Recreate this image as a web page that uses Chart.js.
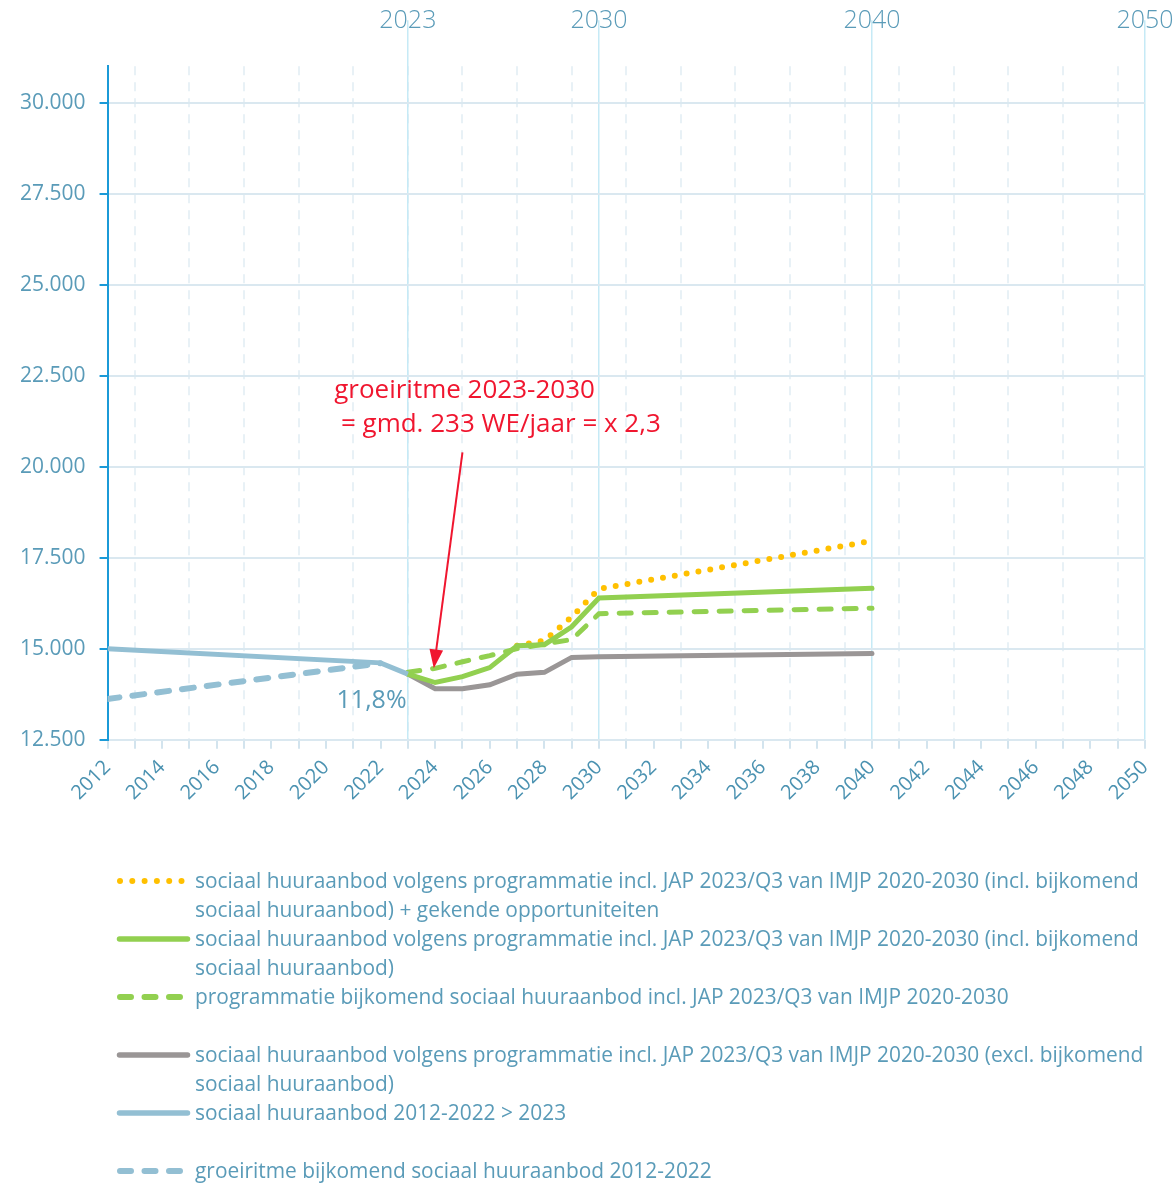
<!DOCTYPE html>
<html>
<head>
<meta charset="utf-8">
<script src="https://cdn.jsdelivr.net/npm/chart.js@4/dist/chart.umd.min.js"></script>
<style>
  body { margin: 0; background: #fff; }
  #wrap { position: relative; width: 1176px; height: 1186px; overflow: hidden; }
  #legend { position: absolute; left: 0; top: 866px; width: 1176px;
            font-family: "Open Sans", sans-serif; font-size: 20.9px; color: #5a9bb8; line-height: 29px; }
  .row { position: relative; padding-left: 195px; white-space: pre-line; min-height: 29px; }
  .row svg { position: absolute; left: 111px; top: 10px; }
</style>
</head>
<body>
<div id="wrap">
  <canvas id="chart" width="1176" height="1186"></canvas>
  <div id="legend"></div>
</div>
<script>
const yearsHist = [2012, 2022, 2023];
const histSolid = [15000, 14610, 14300];

const yearsHistDash = [2012, 2022];
const histDash = [13620, 14600];

const yearsProg = [2023, 2024, 2025, 2026, 2027, 2028, 2029, 2030, 2040];
const greyExcl = [14300, 13900, 13900, 14010, 14300, 14350, 14760, 14780, 14870];
const greenIncl = [14300, 14070, 14230, 14480, 15080, 15110, 15600, 16390, 16660];
const greenDash = [14350, 14460, 14640, 14810, 15000, 15130, 15250, 15960, 16110];

const yearsOpp = [2027, 2028, 2029, 2030, 2040];
const orangeOpp = [15080, 15220, 15870, 16640, 17960];

const yTicks = [12500, 15000, 17500, 20000, 22500, 25000, 27500, 30000];
const topYears = [2023, 2030, 2040, 2050];

const txtColor = '#5a9bb8';

function pts(xs, ys) {
    return xs.map((x, i) => ({x: x, y: ys[i]}));
}
function fmt(v) {
    return String(v).replace(/\B(?=(\d{3})+(?!\d))/g, '.');
}

const labels = {
    orange: 'sociaal huuraanbod volgens programmatie incl. JAP 2023/Q3 van IMJP 2020-2030 (incl. bijkomend\nsociaal huuraanbod) + gekende opportuniteiten',
    green: 'sociaal huuraanbod volgens programmatie incl. JAP 2023/Q3 van IMJP 2020-2030 (incl. bijkomend\nsociaal huuraanbod)',
    greenDash: 'programmatie bijkomend sociaal huuraanbod incl. JAP 2023/Q3 van IMJP 2020-2030',
    grey: 'sociaal huuraanbod volgens programmatie incl. JAP 2023/Q3 van IMJP 2020-2030 (excl. bijkomend\nsociaal huuraanbod)',
    blue: 'sociaal huuraanbod 2012-2022 > 2023',
    blueDash: 'groeiritme bijkomend sociaal huuraanbod 2012-2022'
};

// rode annotatie + 11,8%
const annotations = {
    id: 'annotations',
    afterDatasetsDraw(chart) {
        const ctx = chart.ctx;
        const x = chart.scales.x, y = chart.scales.y;
        ctx.save();
        ctx.fillStyle = '#f0162f';
        ctx.strokeStyle = '#f0162f';
        ctx.font = '26px "Open Sans", sans-serif';
        ctx.textBaseline = 'middle';
        ctx.textAlign = 'left';
        ctx.fillText('groeiritme 2023-2030', x.getPixelForValue(2020.3), y.getPixelForValue(22090));
        ctx.fillText(' = gmd. 233 WE/jaar = x 2,3', x.getPixelForValue(2020.3), y.getPixelForValue(21150));

        // pijl
        const x0 = x.getPixelForValue(2025.0), y0 = y.getPixelForValue(20390);
        const x1 = x.getPixelForValue(2023.95), y1 = y.getPixelForValue(14460);
        const ang = Math.atan2(y1 - y0, x1 - x0);
        ctx.lineWidth = 2;
        ctx.beginPath();
        ctx.moveTo(x0, y0);
        ctx.lineTo(x1 - Math.cos(ang) * 10, y1 - Math.sin(ang) * 10);
        ctx.stroke();
        ctx.beginPath();
        ctx.moveTo(x1, y1);
        ctx.lineTo(x1 - Math.cos(ang - 0.35) * 20, y1 - Math.sin(ang - 0.35) * 20);
        ctx.lineTo(x1 - Math.cos(ang + 0.35) * 20, y1 - Math.sin(ang + 0.35) * 20);
        ctx.closePath();
        ctx.fill();

        ctx.fillStyle = txtColor;
        ctx.textAlign = 'center';
        ctx.font = '25px "Open Sans", sans-serif';
        ctx.fillText('11,8%', x.getPixelForValue(2021.67), y.getPixelForValue(13570));
        ctx.restore();
    }
};

const ctx = document.querySelector('#chart').getContext('2d');
const chart = new Chart(ctx, {
    type: 'line',
    data: {
        datasets: [
            {
                label: labels.orange,
                data: pts(yearsOpp, orangeOpp),
                borderColor: '#ffc000',
                borderWidth: 6,
                borderDash: [0, 12],
                borderCapStyle: 'round',
                order: 6
            },
            {
                label: labels.green,
                data: pts(yearsProg, greenIncl),
                borderColor: '#92d050',
                borderWidth: 5,
                borderCapStyle: 'round',
                order: 2
            },
            {
                label: labels.greenDash,
                data: pts(yearsProg, greenDash),
                borderColor: '#92d050',
                borderWidth: 5,
                borderDash: [12, 13],
                borderCapStyle: 'round',
                order: 3
            },
            {
                label: labels.grey,
                data: pts(yearsProg, greyExcl),
                borderColor: '#9a9696',
                borderWidth: 5,
                borderCapStyle: 'round',
                order: 4
            },
            {
                label: labels.blue,
                data: pts(yearsHist, histSolid),
                borderColor: '#93bfd3',
                borderWidth: 5,
                order: 1
            },
            {
                label: labels.blueDash,
                data: pts(yearsHistDash, histDash),
                borderColor: '#93bfd3',
                borderWidth: 6,
                borderDash: [12, 13],
                borderCapStyle: 'round',
                order: 5
            }
        ]
    },
    options: {
        responsive: false,
        animation: false,
        elements: {
            point: { radius: 0 },
            line: { tension: 0, fill: false }
        },
        layout: {
            padding: { top: 3, left: 6, right: 31, bottom: 374 }
        },
        scales: {
            x: {
                type: 'linear',
                min: 2012,
                max: 2050,
                afterBuildTicks: axis => {
                    const t = [];
                    for (let v = 2012; v <= 2050; v++) t.push({value: v});
                    axis.ticks = t;
                },
                ticks: {
                    autoSkip: false,
                    maxRotation: 45,
                    minRotation: 45,
                    color: '#4b92b1',
                    font: { family: '"Open Sans", sans-serif', size: 20 },
                    padding: 7,
                    callback: v => (v % 2 === 0 ? String(v) : '')
                },
                grid: {
                    color: c => (c.tick && c.tick.value % 2 === 1 ? '#e8f1f6' : 'rgba(0,0,0,0)'),
                    lineWidth: 2,
                    tickColor: '#d3e4ee',
                    tickLength: 9,
                    tickWidth: 2,
                    tickBorderDash: []
                },
                border: { display: false, dash: [9, 7] }
            },
            x2: {
                type: 'linear',
                position: 'top',
                min: 2012,
                max: 2050,
                afterBuildTicks: axis => {
                    axis.ticks = topYears.map(v => ({value: v}));
                },
                // lege titel: maakt de as hoger zodat de labels niet worden afgeknipt
                title: { display: true, text: ' ', font: { size: 16 }, padding: 0 },
                ticks: {
                    autoSkip: false,
                    maxRotation: 0,
                    color: txtColor,
                    font: { family: '"Open Sans", sans-serif', size: 25, weight: '300' },
                    padding: -16,
                    callback: v => String(v)
                },
                grid: {
                    color: '#c6eaf6',
                    lineWidth: 1.5,
                    tickLength: 46
                },
                border: { display: false }
            },
            y: {
                min: 12500,
                max: 31000,
                afterBuildTicks: axis => {
                    axis.ticks = yTicks.map(v => ({value: v}));
                },
                ticks: {
                    color: txtColor,
                    font: { family: '"Open Sans", sans-serif', size: 21 },
                    padding: 14,
                    callback: v => fmt(v)
                },
                grid: {
                    color: '#dae8f0',
                    lineWidth: 2,
                    tickColor: '#1b9ad7',
                    tickLength: 8,
                    tickWidth: 2
                },
                border: { color: '#1b9ad7', width: 2 }
            }
        },
        plugins: {
            legend: { display: false },
            tooltip: { enabled: false }
        }
    },
    plugins: [annotations]
});

// legenda in html, lege regel na groen gestreept en na blauw
function sample(ds) {
    const dash = ds.borderDash || [];
    let line;
    if (dash[0] === 0) {
        let c = '';
        for (let i = 0; i < 6; i++) c += '<circle cx="' + (9 + i * 12.3) + '" cy="5" r="3" fill="' + ds.borderColor + '"/>';
        line = c;
    } else if (dash.length) {
        line = '<line x1="9" y1="5" x2="75" y2="5" stroke="' + ds.borderColor + '" stroke-width="6" stroke-linecap="round" stroke-dasharray="11 13.5"/>';
    } else {
        line = '<line x1="8.5" y1="5" x2="76.5" y2="5" stroke="' + ds.borderColor + '" stroke-width="5.5" stroke-linecap="round"/>';
    }
    return '<svg width="82" height="10">' + line + '</svg>';
}
const legendEl = document.getElementById('legend');
let html = '';
chart.data.datasets.forEach((ds, i) => {
    if (i === 3 || i === 5) html += '<div class="row"></div>';
    html += '<div class="row">' + sample(ds) + ds.label + '</div>';
});
legendEl.innerHTML = html;
</script>
</body>
</html>
